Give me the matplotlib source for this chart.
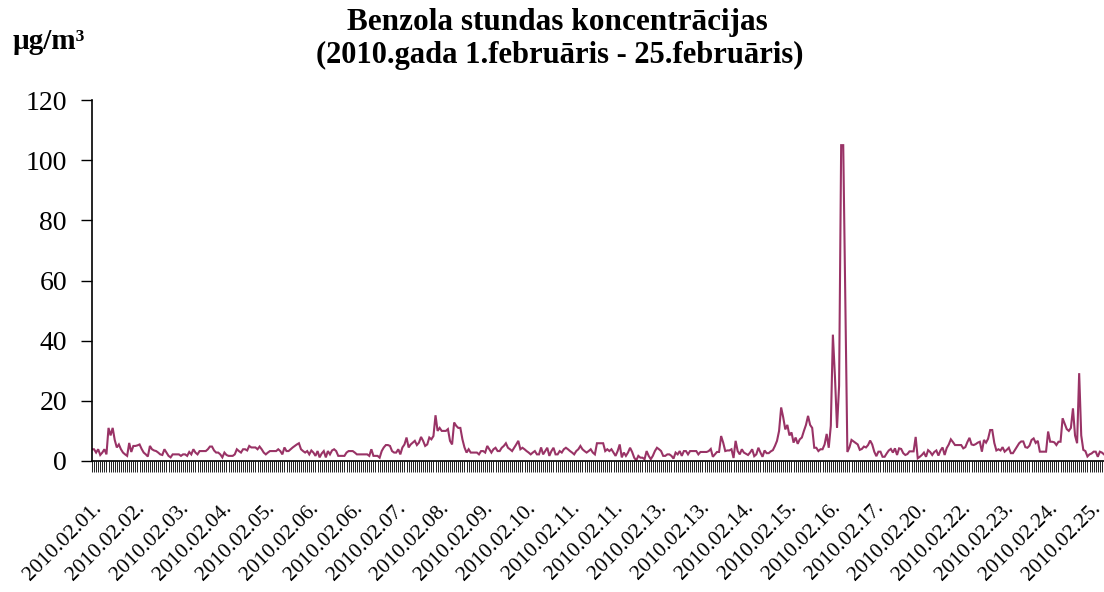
import matplotlib

matplotlib.use("Agg")
import matplotlib.pyplot as plt
import numpy as np

# hourly benzene values, one row per label interval (21 h)
BENZENE = [
    3.9, 3.9, 2.8, 3.9, 2.0, 2.8, 3.9, 2.2, 11.0, 8.5, 11.0, 7.0, 4.5, 5.5, 3.9, 2.8, 2.2, 1.7, 6.0, 3.0, 5.0,
    5.0, 5.2, 5.5, 4.0, 2.8, 2.2, 1.5, 5.0, 3.9, 3.5, 3.3, 2.8, 2.2, 2.0, 3.9, 2.8, 1.7, 1.2, 2.2, 2.2, 2.2,
    2.2, 1.7, 2.2, 2.2, 1.7, 3.0, 2.2, 3.9, 2.8, 2.2, 3.3, 3.3, 3.3, 3.3, 3.9, 4.8, 4.8, 3.5, 2.8, 2.8, 2.2,
    1.2, 2.8, 2.0, 1.7, 1.7, 1.7, 2.2, 3.9, 3.3, 2.8, 3.9, 3.9, 3.5, 5.0, 4.5, 4.5, 4.5, 3.9, 4.8, 3.9, 2.8,
    2.2, 2.8, 3.3, 3.3, 3.3, 3.3, 3.9, 3.3, 2.2, 4.5, 3.3, 3.3, 3.9, 4.5, 5.0, 5.5, 5.9, 3.9, 3.3, 2.8, 3.3,
    2.2, 3.5, 2.8, 1.7, 3.3, 1.2, 2.5, 3.3, 1.2, 3.3, 2.2, 3.5, 3.9, 3.3, 1.7, 1.7, 1.7, 1.7, 2.8, 3.3, 3.3,
    3.3, 2.8, 2.2, 2.2, 2.2, 2.2, 2.2, 2.2, 1.7, 3.9, 1.7, 1.7, 1.7, 1.1, 3.3, 4.5, 5.3, 5.3, 5.0, 3.3, 2.8,
    2.8, 3.9, 2.2, 4.5, 5.5, 7.8, 4.5, 5.5, 6.1, 6.7, 5.3, 6.1, 8.0, 6.7, 5.0, 5.5, 7.8, 7.2, 8.3, 15.2, 10.0,
    11.0, 10.0, 10.0, 10.0, 10.6, 6.7, 5.5, 12.8, 11.7, 11.0, 11.0, 7.2, 4.5, 2.8, 3.9, 2.8, 2.8, 2.8, 2.8, 2.2, 3.3,
    3.3, 2.8, 5.0, 3.9, 2.8, 3.9, 4.4, 3.3, 3.3, 4.4, 5.0, 5.9, 4.4, 3.9, 3.3, 4.4, 5.5, 6.7, 3.9, 4.4, 3.9,
    3.3, 2.8, 2.2, 2.8, 3.3, 2.2, 2.2, 4.5, 2.2, 3.3, 4.4, 1.7, 3.3, 4.4, 2.2, 2.2, 3.3, 2.8, 3.9, 4.4, 3.9,
    3.3, 2.8, 2.2, 3.3, 3.9, 5.0, 3.9, 3.3, 2.8, 3.3, 3.9, 2.8, 2.2, 5.9, 5.9, 5.9, 5.9, 3.3, 3.9, 3.3, 3.9,
    2.8, 1.7, 3.3, 5.5, 1.2, 2.8, 1.7, 2.8, 4.4, 3.0, 1.1, 0.2, 1.7, 1.1, 1.1, 0.6, 3.3, 1.7, 0.6, 1.7, 3.3,
    4.4, 3.9, 3.3, 1.7, 1.7, 2.2, 2.2, 1.7, 0.8, 2.8, 2.2, 3.3, 1.7, 3.3, 3.3, 2.2, 3.3, 3.3, 3.3, 3.3, 2.2,
    3.0, 3.0, 3.0, 3.0, 3.3, 4.0, 1.4, 2.2, 3.0, 3.0, 8.3, 6.1, 3.3, 3.5, 3.5, 3.9, 1.0, 6.7, 3.3, 2.2, 3.9,
    2.8, 2.4, 2.0, 2.8, 3.9, 1.6, 2.2, 4.4, 2.8, 1.4, 3.5, 2.6, 2.6, 3.2, 3.6, 5.0, 6.7, 10.0, 17.8, 14.5, 10.5,
    12.0, 8.5, 9.5, 6.1, 7.8, 5.7, 7.2, 7.8, 10.0, 12.0, 15.0, 12.0, 11.0, 4.4, 4.4, 3.3, 3.9, 3.9, 5.5, 9.0, 4.4,
    11.7, 42.0, 28.0, 11.0, 25.0, 105.0, 105.0, 55.0, 3.0, 4.5, 7.0, 6.5, 6.0, 5.5, 3.7, 4.0, 4.8, 4.5, 5.3, 6.8, 5.5,
    3.1, 1.6, 3.1, 3.1, 1.4, 1.4, 2.5, 3.5, 4.0, 2.8, 4.2, 2.0, 4.2, 4.0, 2.6, 2.0, 2.3, 3.2, 3.2, 3.2, 8.0,
    0.9, 1.4, 2.0, 2.8, 1.4, 3.6, 3.0, 2.0, 3.0, 3.5, 1.8, 3.5, 4.5, 2.0, 4.3, 5.5, 7.2, 6.3, 5.3, 5.3, 5.3,
    5.3, 4.2, 4.6, 6.3, 7.7, 5.5, 5.3, 5.6, 6.1, 6.4, 3.1, 7.0, 6.1, 7.4, 10.3, 10.3, 6.0, 3.5, 3.9, 3.5, 4.6,
    3.1, 3.7, 4.4, 2.6, 2.6, 3.7, 4.8, 5.9, 6.5, 6.5, 4.6, 4.4, 5.1, 7.0, 7.5, 6.0, 6.7, 3.1, 3.1, 3.1, 3.1,
    9.8, 6.4, 6.4, 6.2, 5.3, 6.4, 6.4, 14.2, 12.4, 10.6, 10.0, 11.0, 17.5, 8.5, 5.9, 29.2, 8.5, 3.7, 3.3, 1.5, 2.2,
    2.5, 3.1, 3.1, 1.4, 3.1, 2.8, 2.2,
]

DATE_LABELS = [
    "2010.02.01.", "2010.02.02.", "2010.02.03.", "2010.02.04.", "2010.02.05.",
    "2010.02.06.", "2010.02.06.", "2010.02.07.", "2010.02.08.", "2010.02.09.",
    "2010.02.10.", "2010.02.11.", "2010.02.11.", "2010.02.13.", "2010.02.13.",
    "2010.02.14.", "2010.02.15.", "2010.02.16.", "2010.02.17.", "2010.02.20.",
    "2010.02.22.", "2010.02.23.", "2010.02.24.", "2010.02.25.",
]
Y_TICKS = [0, 20, 40, 60, 80, 100, 120]

TITLE_1 = "Benzola stundas koncentrācijas"
TITLE_2 = "(2010.gada 1.februāris - 25.februāris)"
UNIT = "µg/m³"

LABEL_STEP = 21
LINE_COLOR = "#993366"


def main() -> None:
    plt.rcParams["font.family"] = ["Liberation Serif", "DejaVu Serif"]
    values = np.array(BENZENE)
    n = len(values)
    x = np.arange(n)

    fig = plt.figure(figsize=(11.04, 5.92), dpi=100)
    ax = fig.add_axes([0.0833, 0.2213, 0.9167, 0.6097])

    ax.plot(x, values, color=LINE_COLOR, linewidth=1.5, solid_joinstyle="miter")

    ax.set_ylim(0, 120)
    ax.set_xlim(0, n - 1)
    ax.set_yticks(Y_TICKS)
    ax.set_yticklabels([str(v) for v in Y_TICKS], fontsize=20)
    ax.tick_params(axis="y", direction="out", length=8, width=1, pad=10)

    labels = [DATE_LABELS[k // LABEL_STEP] if k % LABEL_STEP == 0 else "" for k in range(n)]
    ax.set_xticks(x)
    ax.set_xticklabels(labels, fontsize=15.5, rotation=45, ha="right", va="top",
                       rotation_mode="anchor")
    ax.tick_params(axis="x", direction="out", length=8, width=0.6, pad=19)

    for side in ["top", "right"]:
        ax.spines[side].set_visible(False)
    for side in ["left", "bottom"]:
        ax.spines[side].set_linewidth(1.2)
        ax.spines[side].set_color("black")

    fig.text(0.505, 0.962, TITLE_1, ha="center", va="center", fontsize=22.5,
             fontweight="bold")
    fig.text(0.507, 0.906, TITLE_2, ha="center", va="center", fontsize=22,
             fontweight="bold")
    fig.text(0.011, 0.930, UNIT, ha="left", va="center", fontsize=21,
             fontweight="bold")

    fig.savefig("out.png", dpi=100)


if __name__ == "__main__":
    main()
